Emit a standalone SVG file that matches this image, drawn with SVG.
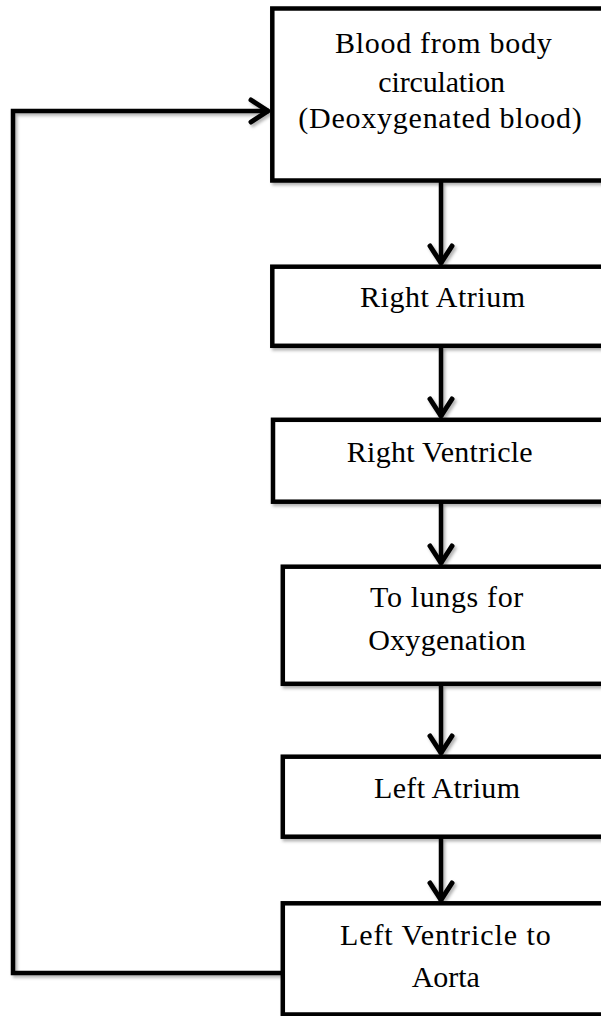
<svg xmlns="http://www.w3.org/2000/svg" width="601" height="1016" viewBox="0 0 601 1016">
<style>
.box{fill:#fff;stroke:#000;stroke-width:4.5;filter:url(#sh)}
.ln{fill:none;stroke:#000;stroke-width:4.5;stroke-linejoin:miter}
.t{font-family:"Liberation Serif","Times New Roman",serif;font-size:30px;fill:#000;text-anchor:middle}
</style>
<defs>
<filter id="sh" x="-10%" y="-10%" width="130%" height="130%">
<feDropShadow dx="2" dy="2.5" stdDeviation="1.5" flood-color="#000" flood-opacity="0.3"/>
</filter>
<marker id="arr" markerUnits="userSpaceOnUse" viewBox="-24 -16 28 32" markerWidth="28" markerHeight="32" refX="0" refY="0" orient="auto">
<path d="M-18,-11 L-1,0 L-18,11" fill="none" stroke="#000" stroke-width="5" stroke-linecap="round" stroke-linejoin="round"/>
</marker>
</defs>
<rect width="601" height="1016" fill="#fff"/>
<g id="connectors" filter="url(#sh)">
<path class="ln" d="M441,182 V264" marker-end="url(#arr)"/>
<path class="ln" d="M441,347 V417" marker-end="url(#arr)"/>
<path class="ln" d="M441,503 V564" marker-end="url(#arr)"/>
<path class="ln" d="M441,685 V754" marker-end="url(#arr)"/>
<path class="ln" d="M441,838 V901" marker-end="url(#arr)"/>
<path class="ln" d="M282,973 H13 V111 H269" marker-end="url(#arr)"/>
</g>
<g id="node-body">
<rect class="box" x="272.3" y="8.5" width="345" height="172"/>
<text class="t" x="443.3" y="53.3" textLength="216.7" lengthAdjust="spacing">Blood from body</text>
<text class="t" x="441.7" y="91.7" textLength="126.7" lengthAdjust="spacing">circulation</text>
<text class="t" x="440" y="128.3" textLength="283.3" lengthAdjust="spacing">(Deoxygenated blood)</text>
</g>
<g id="node-right-atrium">
<rect class="box" x="272.3" y="266.7" width="345" height="79.1"/>
<text class="t" x="442.5" y="306.7" textLength="165" lengthAdjust="spacing">Right Atrium</text>
</g>
<g id="node-right-ventricle">
<rect class="box" x="273" y="419.8" width="345" height="81.9"/>
<text class="t" x="439.7" y="461.7" textLength="186" lengthAdjust="spacing">Right Ventricle</text>
</g>
<g id="node-lungs">
<rect class="box" x="282.8" y="566.7" width="345" height="117.1"/>
<text class="t" x="446.7" y="606.7" textLength="153.3" lengthAdjust="spacing">To lungs for</text>
<text class="t" x="447" y="650" textLength="157.7" lengthAdjust="spacing">Oxygenation</text>
</g>
<g id="node-left-atrium">
<rect class="box" x="282.8" y="756.7" width="345" height="80"/>
<text class="t" x="447" y="798.3" textLength="146" lengthAdjust="spacing">Left Atrium</text>
</g>
<g id="node-left-ventricle">
<rect class="box" x="282.8" y="903.3" width="345" height="111.2"/>
<text class="t" x="445.3" y="945" textLength="210.7" lengthAdjust="spacing">Left Ventricle to</text>
<text class="t" x="445.8" y="987.3" textLength="68.3" lengthAdjust="spacing">Aorta</text>
</g>
</svg>
